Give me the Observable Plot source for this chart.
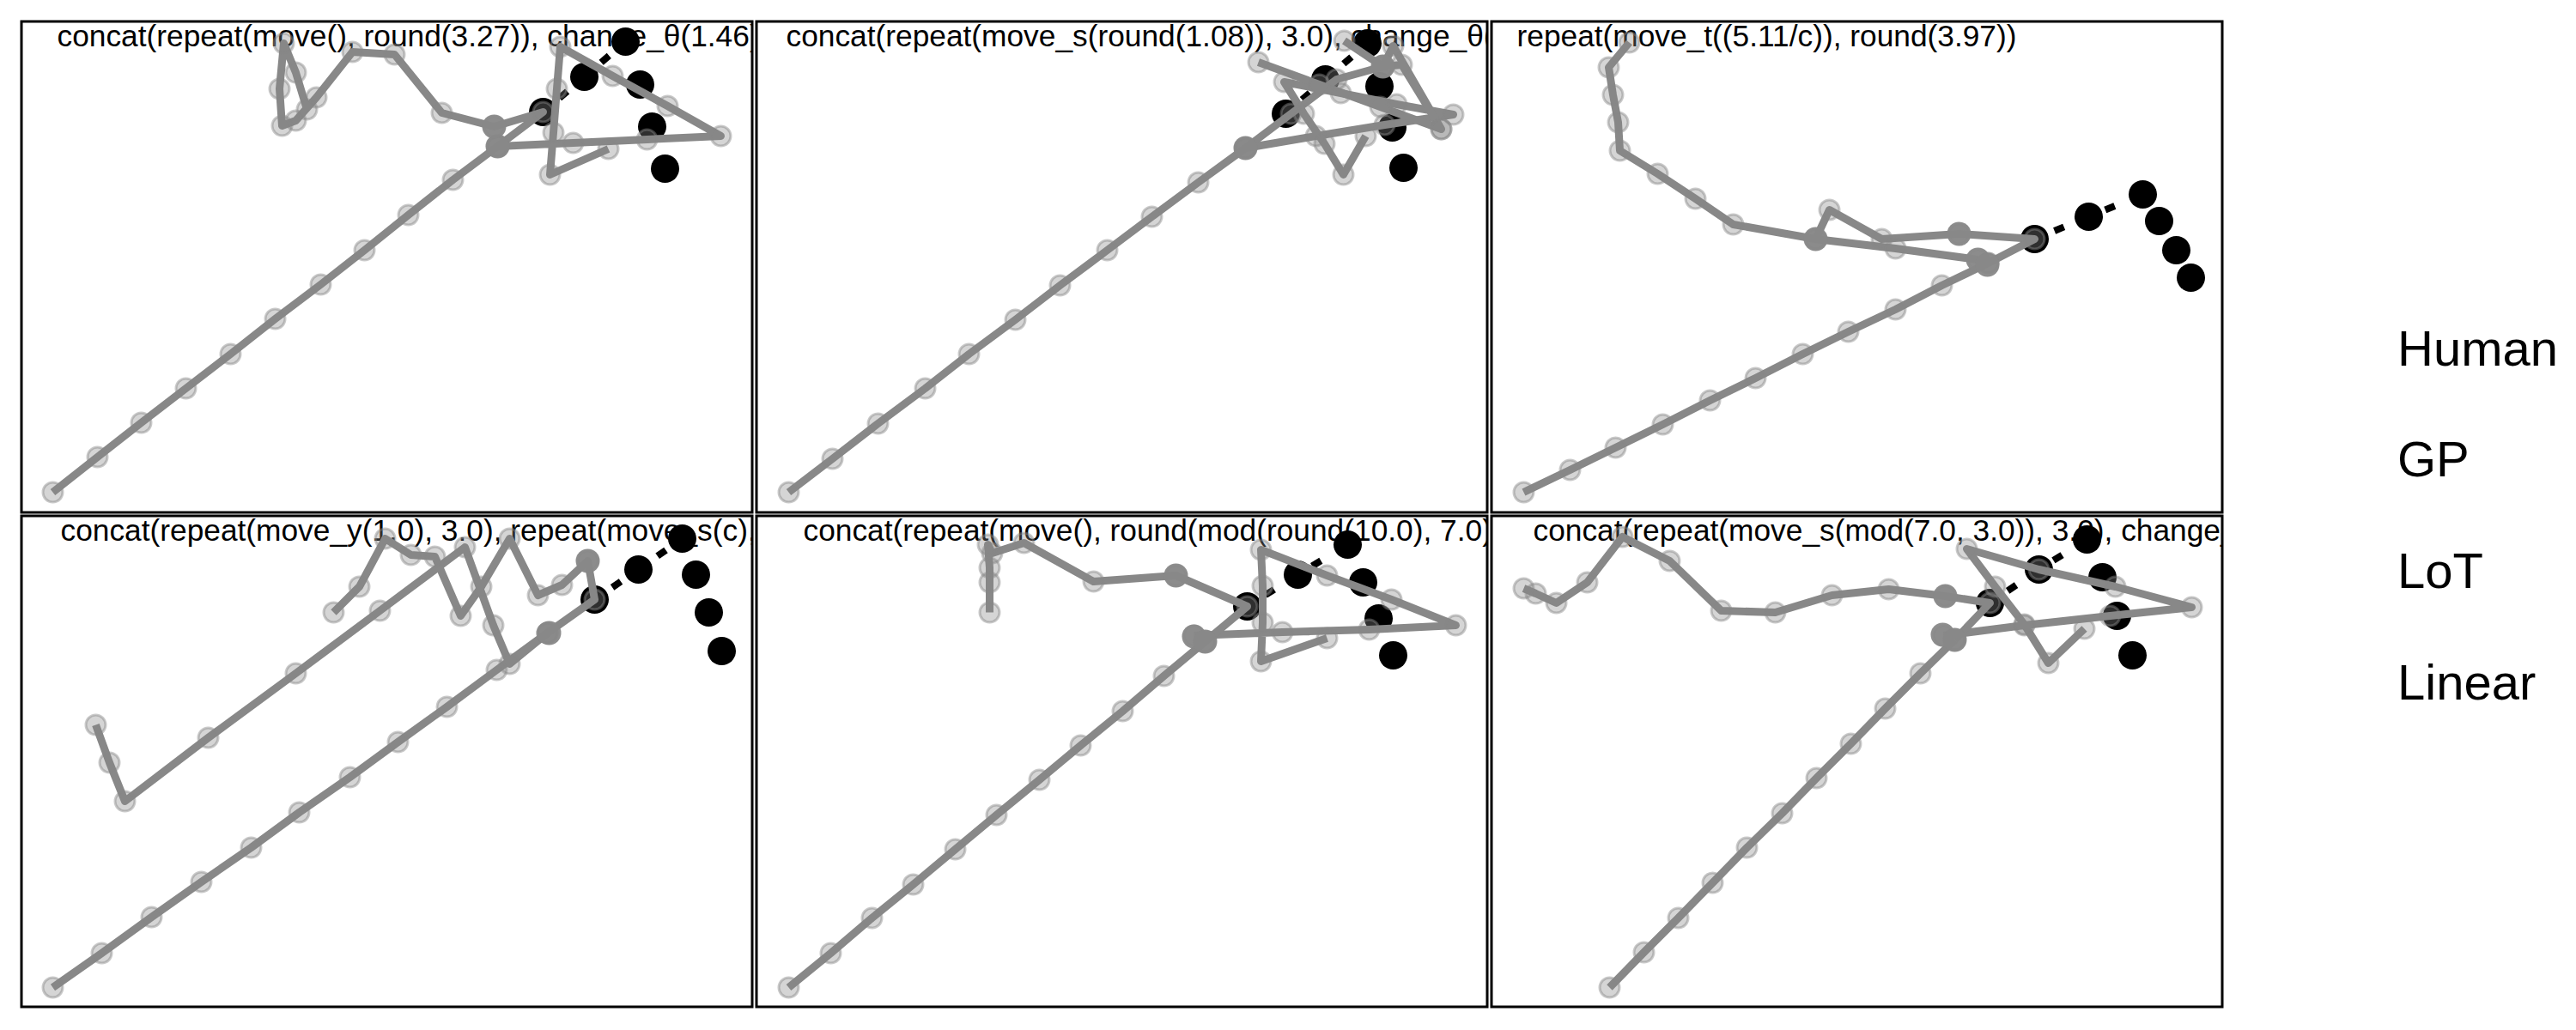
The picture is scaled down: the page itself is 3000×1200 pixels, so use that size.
<!DOCTYPE html>
<html><head><meta charset="utf-8">
<script src="https://cdn.jsdelivr.net/npm/d3@7"></script>
<script src="https://cdn.jsdelivr.net/npm/@observablehq/plot@0.6"></script>
<style>
body{margin:0;background:#fff;width:3000px;height:1200px;position:relative;overflow:hidden;font-family:"Liberation Sans",Arial,sans-serif}
.panel{position:absolute}
.lg{position:absolute;left:2792px;font-size:58px;line-height:58px;color:#000;white-space:nowrap}
</style></head><body>
<script>
// ---- titles (programs) ----
const titles = [
  "concat(repeat(move(), round(3.27)), change_θ(1.46))",
  "concat(repeat(move_s(round(1.08)), 3.0), change_θ(0.5))",
  "repeat(move_t((5.11/c)), round(3.97))",
  "concat(repeat(move_y(1.0), 3.0), repeat(move_s(c), 3.0))",
  "concat(repeat(move(), round(mod(round(10.0), 7.0))))",
  "concat(repeat(move_s(mod(7.0, 3.0)), 3.0), change_θ(1.0))"
];
const legendLabels = ["Human", "GP", "LoT", "Linear"];

// ---- panel 1 ----
const p1Stim = [[38,25],[90,66],[141,106],[193,146],[245,186],[297,227],[350,267],[401,307],[452,348],[504,389],[556,428]];
const p1Human = [[609,468],[657,509],[705,550],[722,500],[736,451],[751,402]];
const p1Lot = [[556,428],[644,432],[730,436],[816,440],[754,475],[690,510],[629,544],[625,495],[621,444],[617,395],[685,425]];
const p1Gp = [[556,428],[609,468],[552,451],[491,467],[436,535],[387,538],[345,485],[321,458],[305,452],[302,495],[307,548],[321,514],[334,471]];
const p1Dark = [[556,428],[552,451]];

// ---- panel 2 ----
const p2Stim = [[39,25],[90,64],[143,105],[198,146],[249,186],[303,226],[355,266],[410,307],[462,346],[516,386],[571,426]];
const p2Human = [[618,466],[664,506],[713,548],[727,498],[742,450],[755,403]];
const p2Lot = [[571,426],[653,440],[733,453],[813,465],[747,477],[682,490],[616,503],[639,466],[663,431],[685,395],[711,440]];
const p2Gp = [[571,426],[624,466],[677,506],[731,521],[743,545],[799,448],[728,474],[657,500],[586,526]];
const p2Gp2 = [[686,551],[731,521],[753,523],[799,448]];
const p2Dark = [[571,426],[731,521]];

// ---- panel 3 ----
const p3Stim = [[39,25],[93,51],[146,77],[201,104],[256,132],[309,158],[364,186],[417,212],[472,238],[526,266],[580,292]];
const p3Human = [[634,320],[697,346],[760,372],[779,341],[799,307],[816,275]];
const p3Gp = [[580,292],[634,320],[546,326],[456,320],[395,354],[379,320]];
const p3Lot = [[568,296],[472,309],[379,320],[283,337],[239,367],[195,396],[151,423],[149,456],[143,488],[138,520],[162,549]];
const p3Dark = [[568,296],[579,290],[546,326],[379,320]];

// ---- panel 4 ----
const p4Stim = [[38,24],[95,64],[153,106],[211,147],[269,187],[325,228],[384,269],[440,310],[497,351],[555,394],[614,437]];
const p4Human = [[669,476],[720,511],[771,547],[787,505],[802,461],[817,416]];
const p4Gp = [[614,437],[669,476],[661,521],[631,493],[603,481],[570,547],[537,491],[513,457],[483,526],[455,528],[425,547],[395,491],[365,461]];
const p4Lot = [[614,437],[570,401],[551,446],[518,537],[419,463],[321,390],[219,315],[122,241],[104,286],[88,330]];
const p4Dark = [[616,437],[661,521]];

// ---- panel 5 ----
const p5Stim = [[39,24],[88,64],[136,105],[184,144],[233,185],[281,225],[331,266],[379,306],[428,346],[476,387],[524,427]];
const p5Human = [[573,468],[632,505],[690,540],[708,496],[726,454],[743,411]];
const p5Lot = [[511,434],[614,438],[715,441],[816,446],[741,476],[666,504],[589,534],[591,492],[591,449],[589,404],[666,431]];
const p5Gp = [[524,427],[573,468],[490,504],[394,497],[313,542],[276,530],[271,540],[273,513],[273,496],[273,461]];
const p5Dark = [[511,433],[524,427],[490,504]];

// ---- panel 6 ----
const p6Stim = [[139,24],[179,65],[219,105],[259,146],[299,187],[340,227],[380,268],[420,308],[460,349],[501,390],[541,429]];
const p6Human = [[582,472],[639,511],[695,546],[713,502],[730,457],[748,411]];
const p6Lot = [[528,434],[622,446],[722,457],[817,467],[728,491],[639,511],[555,535],[588,491],[622,447],[650,402],[692,442]];
const p6Gp = [[541,429],[582,472],[530,480],[464,488],[398,481],[332,461],[269,463],[209,521],[154,549],[113,496],[77,472],[53,483],[39,489]];
const p6Dark = [[527,435],[541,429],[530,480]];

// panel layout
const W = 854, H = 575;
const lefts = [23, 879, 1735], tops = [23, 599];
const titleDx = [43, 36, 31, 47, 56, 50];
const FONT = "Liberation Sans, Arial, Helvetica, sans-serif";

const panels = [
  {stim: p1Stim, human: p1Human, paths: [p1Lot, p1Gp], dark: p1Dark},
  {stim: p2Stim, human: p2Human, paths: [p2Lot, p2Gp, p2Gp2], dark: p2Dark},
  {stim: p3Stim, human: p3Human, paths: [p3Gp, p3Lot], dark: p3Dark},
  {stim: p4Stim, human: p4Human, paths: [p4Gp, p4Lot], dark: p4Dark},
  {stim: p5Stim, human: p5Human, paths: [p5Lot, p5Gp], dark: p5Dark},
  {stim: p6Stim, human: p6Human, paths: [p6Lot, p6Gp], dark: p6Dark}
];

const X = d => d[0], Y = d => d[1];
const GRAY = "#888888";

panels.forEach((p, i) => {
  const lines = [p.stim, ...p.paths];
  const pts = lines.flat();
  const chart = Plot.plot({
    width: W, height: H, margin: 0,
    x: {domain: [0, W], axis: null},
    y: {domain: [0, H], axis: null},
    style: {background: "transparent", overflow: "visible"},
    marks: [
      Plot.text([titles[i]], {frameAnchor: "top-left", textAnchor: "start", lineAnchor: "top",
        dx: titleDx[i], dy: 5, fontSize: 35.3, fontFamily: FONT, fill: "black", clip: true}),
      Plot.line(p.human.slice(0, 3), {x: X, y: Y, stroke: "black", strokeWidth: 8,
        strokeDasharray: "12,52", strokeDashoffset: 39, strokeLinecap: "butt"}),
      Plot.dot(p.human, {x: X, y: Y, r: 16.5, fill: "black"}),
      ...lines.map(l => Plot.line(l, {x: X, y: Y, stroke: GRAY, strokeWidth: 9, strokeLinejoin: "round", strokeLinecap: "butt"})),
      Plot.dot(pts, {x: X, y: Y, r: 11.5, fill: GRAY, fillOpacity: 0.35, stroke: GRAY, strokeOpacity: 0.45, strokeWidth: 3}),
      Plot.dot(p.dark, {x: X, y: Y, r: 14, fill: GRAY, fillOpacity: 0.95}),
      Plot.frame({stroke: "black", strokeWidth: 3, inset: 1.5})
    ]
  });
  chart.classList.add("panel");
  chart.style.left = lefts[i % 3] + "px";
  chart.style.top = tops[Math.floor(i / 3)] + "px";
  chart.style.position = "absolute";
  document.body.appendChild(chart);
});

// legend (labels only)
const legendBaselines = [426, 555, 685, 815];
legendLabels.forEach((t, i) => {
  const d = document.createElement("div");
  d.className = "lg";
  d.textContent = t;
  d.style.top = (legendBaselines[i] - 49) + "px";
  document.body.appendChild(d);
});
</script>
</body></html>
